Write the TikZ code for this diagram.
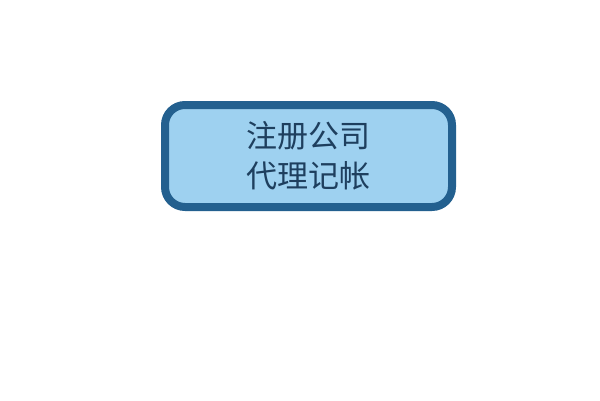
\documentclass[tikz,border=0pt]{standalone}
\usepackage{fontspec}
\usepackage{tikz}
\newfontfamily\cjk{Noto Sans CJK SC}

\definecolor{boxfill}{HTML}{9ED1F0}
\definecolor{boxline}{HTML}{23608F}
\definecolor{boxtext}{HTML}{1E3F5E}

\tikzset{
	service/.style={shape=rectangle, rounded corners=20pt, draw=boxline, fill=boxfill,
		line width=8pt, minimum width=287pt, minimum height=102pt,
		text=boxtext, align=center, font=\cjk\fontsize{31}{40}\selectfont}
}

\begin{document}
\begin{tikzpicture}[x=1pt, y=1pt]

	\useasboundingbox (0, 0) rectangle (600, 400);

	\node[service] (reg) at (308.5, 244)    {注册公司\\代理记帐};

\end{tikzpicture}
\end{document}
